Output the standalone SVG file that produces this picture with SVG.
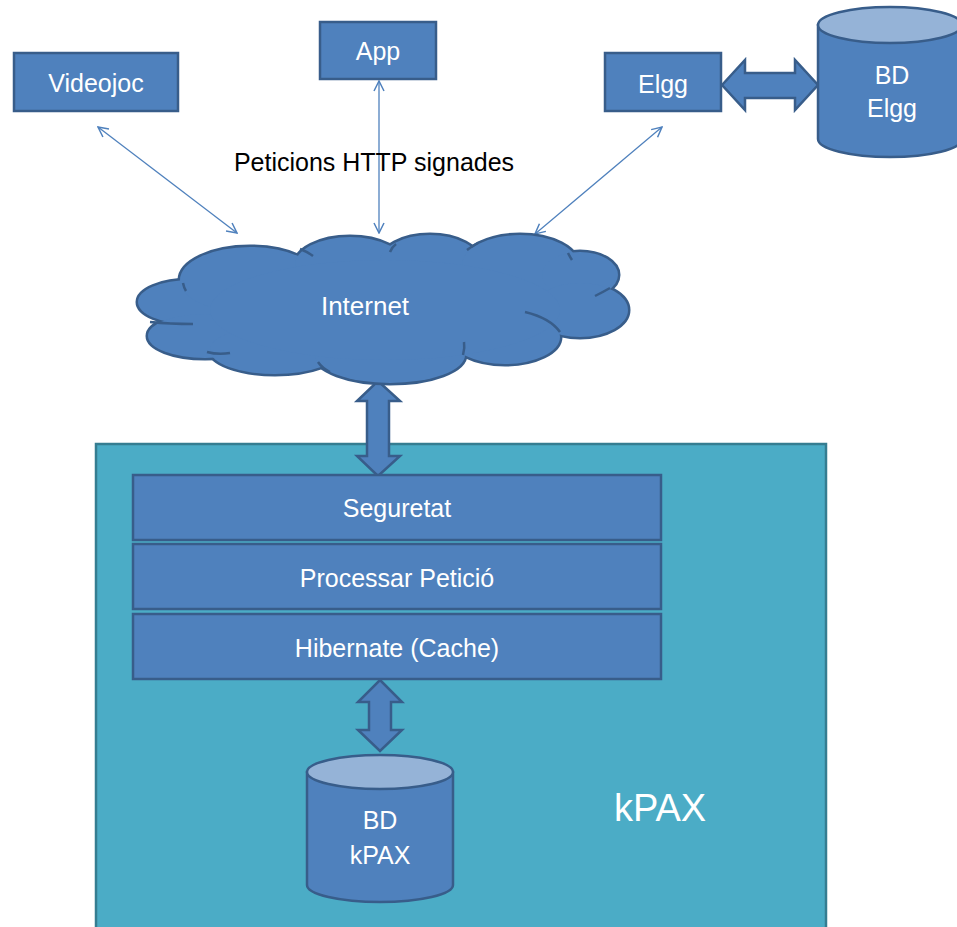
<svg xmlns="http://www.w3.org/2000/svg" width="957" height="927" viewBox="0 0 957 927">
<defs>
<style>
.box{fill:#4F81BD;stroke:#385D8A;stroke-width:2.5}
.cyl{fill:#4F81BD;stroke:#385D8A;stroke-width:2.5}
.cyltop{fill:#95B3D7;stroke:#385D8A;stroke-width:2.5}
.blk{fill:#4F81BD;stroke:#385D8A;stroke-width:2.5;stroke-linejoin:miter}
.lbl{font-family:"Liberation Sans",Arial,sans-serif;fill:#FFFFFF;text-anchor:middle}
.thin{stroke:#4F81BD;stroke-width:1.3;fill:none;marker-start:url(#open);marker-end:url(#open)}
.cloudO{fill:#4F81BD;stroke:#385D8A;stroke-width:5}
.cloudI{fill:#4F81BD;stroke:none}
.inner{fill:none;stroke:#385D8A;stroke-width:2.5}
</style>
<marker id="open" viewBox="0 0 12 12" refX="11" refY="6" markerWidth="12" markerHeight="12" markerUnits="userSpaceOnUse" orient="auto-start-reverse">
<path d="M1,1 L11,6 L1,11" fill="none" stroke="#4F81BD" stroke-width="1.5"/>
</marker>
</defs>

<g id="kpax">
<rect x="96" y="444" width="730" height="500" fill="#4BACC6" stroke="#357D91" stroke-width="2.5"/>
<text class="lbl" x="660" y="821" font-size="38">kPAX</text>
</g>

<g id="connectors">
<line class="thin" x1="98" y1="127" x2="237" y2="233"/>
<line class="thin" x1="379" y1="81" x2="379" y2="233"/>
<line class="thin" x1="662" y1="127" x2="535" y2="234"/>
<path class="blk" d="M722,85 L745,60 L745,73 L795,73 L795,60 L818,85 L795,110 L795,98 L745,98 L745,110 Z"/>
<path class="blk" d="M378,381 L400,401 L389,401 L389,456 L400,456 L378,476 L357,456 L367,456 L367,401 L357,401 Z"/>
<path class="blk" d="M380,680 L402,702 L391,702 L391,730 L402,730 L380,751 L358,730 L369,730 L369,702 L358,702 Z"/>
</g>

<text x="374" y="171" font-family="Liberation Sans, Arial, sans-serif" font-size="25" fill="#000000" text-anchor="middle">Peticions HTTP signades</text>

<g id="videojoc">
<rect class="box" x="14" y="53" width="164" height="58"/>
<text class="lbl" x="96" y="92" font-size="25">Videojoc</text>
</g>

<g id="app">
<rect class="box" x="320" y="22" width="116" height="57"/>
<text class="lbl" x="378" y="60" font-size="25">App</text>
</g>

<g id="elgg">
<rect class="box" x="605" y="53" width="116" height="58"/>
<text class="lbl" x="663" y="93" font-size="25">Elgg</text>
</g>

<g id="bd-elgg">
<path class="cyl" d="M818,25 L818,139 A72,18 0 0 0 962,139 L962,25 Z"/>
<ellipse class="cyltop" cx="890" cy="25" rx="72" ry="18"/>
<text class="lbl" x="892" y="84" font-size="25">BD</text>
<text class="lbl" x="892" y="117" font-size="25">Elgg</text>
</g>

<g id="internet">
<g class="cloudO">
<ellipse cx="190" cy="302" rx="52" ry="22"/>
<ellipse cx="205" cy="336" rx="57" ry="22"/>
<ellipse cx="250" cy="280" rx="70" ry="33"/>
<ellipse cx="275" cy="350" rx="65" ry="24"/>
<ellipse cx="390" cy="355" rx="75" ry="28"/>
<ellipse cx="350" cy="265" rx="55" ry="28"/>
<ellipse cx="430" cy="262" rx="50" ry="27"/>
<ellipse cx="520" cy="265" rx="58" ry="30"/>
<ellipse cx="580" cy="275" rx="38" ry="23"/>
<ellipse cx="580" cy="310" rx="48" ry="27"/>
<ellipse cx="505" cy="337" rx="55" ry="27"/>
</g>
<g class="cloudI">
<ellipse cx="190" cy="302" rx="52" ry="22"/>
<ellipse cx="205" cy="336" rx="57" ry="22"/>
<ellipse cx="250" cy="280" rx="70" ry="33"/>
<ellipse cx="275" cy="350" rx="65" ry="24"/>
<ellipse cx="390" cy="355" rx="75" ry="28"/>
<ellipse cx="350" cy="265" rx="55" ry="28"/>
<ellipse cx="430" cy="262" rx="50" ry="27"/>
<ellipse cx="520" cy="265" rx="58" ry="30"/>
<ellipse cx="580" cy="275" rx="38" ry="23"/>
<ellipse cx="580" cy="310" rx="48" ry="27"/>
<ellipse cx="505" cy="337" rx="55" ry="27"/>
<ellipse cx="385" cy="310" rx="175" ry="50"/>
</g>
<path class="inner" d="M150,322 Q170,324 193,324"/>
<path class="inner" d="M183,283 Q184,288 186,291"/>
<path class="inner" d="M207,352 Q218,355 230,353"/>
<path class="inner" d="M318,362 Q322,368 330,372"/>
<path class="inner" d="M463,355 Q465,348 464,342"/>
<path class="inner" d="M525,312 Q550,318 560,332"/>
<path class="inner" d="M595,296 Q603,292 610,288"/>
<path class="inner" d="M568,253 Q570,257 572,260"/>
<path class="inner" d="M467,250 Q472,246 478,243"/>
<path class="inner" d="M390,252 Q392,247 396,244"/>
<path class="inner" d="M300,249 Q308,252 313,256"/>
<text class="lbl" x="365" y="315" font-size="26">Internet</text>
</g>

<g id="seguretat">
<rect class="box" x="133" y="475" width="528" height="65"/>
<text class="lbl" x="397" y="517" font-size="25">Seguretat</text>
</g>
<g id="processar">
<rect class="box" x="133" y="544" width="528" height="65"/>
<text class="lbl" x="397" y="587" font-size="25">Processar Petició</text>
</g>
<g id="hibernate">
<rect class="box" x="133" y="614" width="528" height="65"/>
<text class="lbl" x="397" y="657" font-size="25">Hibernate (Cache)</text>
</g>

<g id="bd-kpax">
<path class="cyl" d="M307,772 L307,885 A73,17 0 0 0 453,885 L453,772 Z"/>
<ellipse class="cyltop" cx="380" cy="772" rx="73" ry="17"/>
<text class="lbl" x="380" y="829" font-size="25">BD</text>
<text class="lbl" x="380" y="864" font-size="25">kPAX</text>
</g>
</svg>
